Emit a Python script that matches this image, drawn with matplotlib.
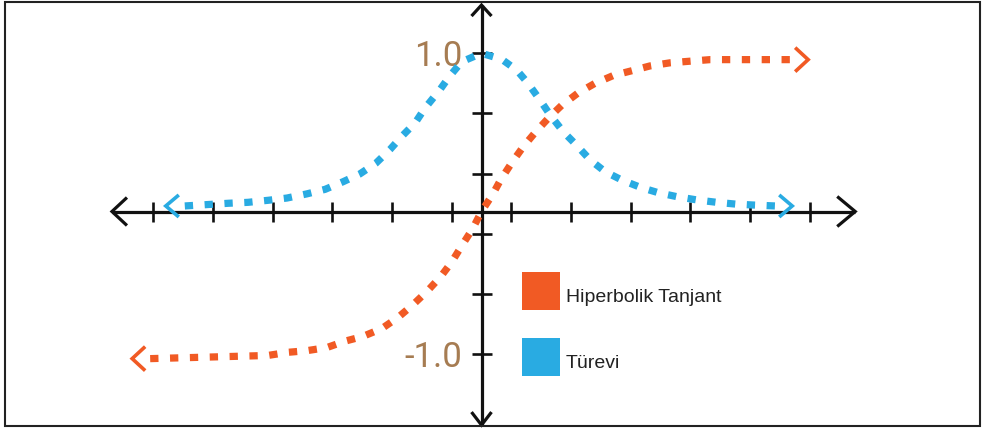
import matplotlib
matplotlib.use("Agg")
import matplotlib.pyplot as plt
import numpy as np
from matplotlib.lines import Line2D
from matplotlib.patches import Rectangle

# ---------------- data ----------------
# hyperbolic tangent curve
tanh_x = [-5.55, -4.55, -3.58, -3.24, -2.93, -2.59, -2.29, -1.99, -1.67, -1.40,
          -1.15, -0.90, -0.68, -0.50, -0.32, -0.15, 0.0, 0.19, 0.32, 0.51,
          0.70, 0.90, 1.12, 1.34, 1.62, 1.90, 2.21, 2.52, 2.82, 3.16,
          3.49, 3.83, 5.17]
tanh_y = [-0.93, -0.92, -0.91, -0.89, -0.88, -0.86, -0.82, -0.79, -0.74, -0.67,
          -0.59, -0.50, -0.41, -0.32, -0.21, -0.11, 0.0, 0.11, 0.20, 0.31,
          0.41, 0.50, 0.59, 0.67, 0.75, 0.81, 0.86, 0.89, 0.92, 0.94,
          0.95, 0.96, 0.96]

# its derivative
deriv_x = [-4.97, -4.24, -3.91, -3.57, -3.26, -2.93, -2.62, -2.32, -2.04, -1.77,
           -1.53, -1.34, -1.11, -0.95, -0.70, -0.53, -0.33, 0.0, 0.34, 0.59,
           0.78, 0.98, 1.15, 1.37, 1.60, 1.82, 2.07, 2.35, 2.66, 2.96,
           3.27, 3.61, 3.94, 4.25, 4.55, 4.92]
deriv_y = [0.035, 0.052, 0.058, 0.071, 0.085, 0.111, 0.140, 0.188, 0.237, 0.305,
           0.393, 0.473, 0.561, 0.652, 0.768, 0.857, 0.947, 1.0, 0.962, 0.894,
           0.810, 0.705, 0.610, 0.504, 0.416, 0.326, 0.252, 0.199, 0.153, 0.119,
           0.094, 0.073, 0.058, 0.047, 0.041, 0.035]

x_ticks = [-5.5, -4.5, -3.5, -2.5, -1.5, -0.5, 0.5, 1.5, 2.5, 3.5, 4.5, 5.5]
y_ticks = [1.0, 0.62, 0.24, -0.14, -0.52, -0.90]
y_tick_labels = ["1.0", "", "", "", "", "-1.0"]

series_labels = ["Hiperbolik Tanjant", "Türevi"]

# ---------------- style ----------------
ORANGE = "#F15A24"
BLUE = "#29ABE2"
BROWN = "#A67C52"
INK = "#111111"

W, H = 984, 430
X_PX, Y_PX = 59.7, 158.2          # pixels per data unit
ORIGIN = (481.5, 211.5)           # axes origin, pixels from top-left
X_SPAN = (-6.19, 6.26)
Y_SPAN = (-1.35, 1.305)

fig = plt.figure(figsize=(W / 100, H / 100), dpi=100)
ax = fig.add_axes([0, 0, 1, 1])
ax.set_xlim(-ORIGIN[0] / X_PX, (W - ORIGIN[0]) / X_PX)
ax.set_ylim(-(H - ORIGIN[1]) / Y_PX, ORIGIN[1] / Y_PX)
ax.set_facecolor("white")

# axes through the origin
for side in ("top", "right"):
    ax.spines[side].set_visible(False)
ax.spines["left"].set_position(("data", 0))
ax.spines["bottom"].set_position(("data", 0))
ax.spines["left"].set_bounds(*Y_SPAN)
ax.spines["bottom"].set_bounds(*X_SPAN)
for side in ("left", "bottom"):
    ax.spines[side].set_linewidth(2.3)
    ax.spines[side].set_color(INK)
    ax.spines[side].set_capstyle("butt")

ax.set_xticks(x_ticks)
ax.set_xticklabels([])
ax.set_yticks(y_ticks)
ax.set_yticklabels(y_tick_labels)
ax.tick_params(axis="both", direction="inout", length=14.4, width=1.9, color=INK)
ax.tick_params(axis="y", pad=6.5, labelsize=25, labelcolor=BROWN)
for lab in ax.get_yticklabels():
    lab.set_fontfamily("Roboto")

dot = (0, (1.15, 1.6))
ax.plot(tanh_x, tanh_y, color=ORANGE, lw=5.2, linestyle=dot,
        dash_capstyle="butt", zorder=3)
ax.plot(deriv_x, deriv_y, color=BLUE, lw=5.2, linestyle=dot,
        dash_capstyle="butt", zorder=3)


def chevron(tip, direction, back_px, half_px, color, lw, z=3):
    """Open arrow head whose tip sits at `tip` (data coords)."""
    tx, ty = ax.transData.transform(tip)
    dx, dy = direction
    nx, ny = -dy, dx
    pts = np.array([
        (tx - dx * back_px + nx * half_px, ty - dy * back_px + ny * half_px),
        (tx, ty),
        (tx - dx * back_px - nx * half_px, ty - dy * back_px - ny * half_px),
    ])
    d = ax.transData.inverted().transform(pts)
    ax.plot(d[:, 0], d[:, 1], color=color, lw=lw, solid_joinstyle="miter",
            solid_capstyle="butt", zorder=z, clip_on=False)


def beyond(pt, px, sign):
    """Point shifted horizontally by px pixels."""
    return (pt[0] + sign * px / X_PX, pt[1])


# arrow heads on the axes
chevron((X_SPAN[1], 0), (1, 0), 18, 15, INK, 2.3)
chevron((X_SPAN[0], 0), (-1, 0), 15, 14, INK, 2.3)
chevron((0, Y_SPAN[1]), (0, 1), 11, 10, INK, 2.3)
chevron((0, Y_SPAN[0]), (0, -1), 13, 10, INK, 2.3)

# arrow heads at the curve ends
chevron(beyond((tanh_x[-1], tanh_y[-1]), 18, 1), (1, 0), 13, 12, ORANGE, 2.6)
chevron(beyond((tanh_x[0], tanh_y[0]), 18, -1), (-1, 0), 13, 12, ORANGE, 2.6)
chevron(beyond((deriv_x[-1], deriv_y[-1]), 17, 1), (1, 0), 13, 11, BLUE, 2.6)
chevron(beyond((deriv_x[0], deriv_y[0]), 19, -1), (-1, 0), 13, 11, BLUE, 2.6)

# legend
handles = [Line2D([], [], marker="s", markersize=27.4, markerfacecolor=c,
                  markeredgewidth=0, linestyle="none")
           for c in (ORANGE, BLUE)]
leg = ax.legend(handles, series_labels, loc="upper left",
                bbox_to_anchor=(522 / W, 1 - 281 / H), frameon=False,
                borderpad=0, borderaxespad=0, handlelength=1.96,
                handleheight=1.9, handletextpad=0.3, labelspacing=1.91,
                prop={"family": "Liberation Sans", "size": 14})
for t in leg.get_texts():
    t.set_color("#222222")

# outer frame
fig.add_artist(Rectangle((4.5 / W, (H - 426) / H), (980 - 4.5) / W,
                         (426 - 1.5) / H, transform=fig.transFigure,
                         fill=False, lw=1.5, ec="#222222"))

fig.savefig("out.png", dpi=100)
